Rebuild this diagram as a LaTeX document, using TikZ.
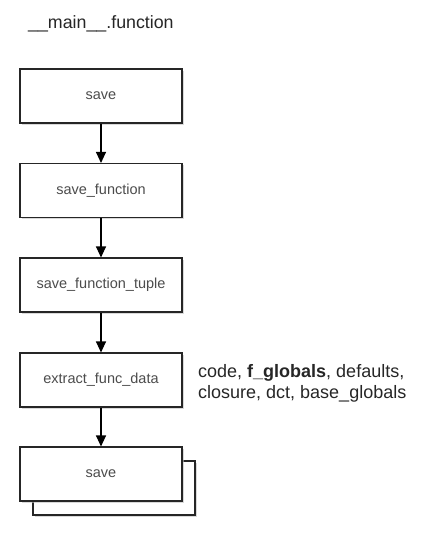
\documentclass[tikz,border=0pt]{standalone}
\usepackage{fontspec}
\setmainfont{Liberation Sans}
\usetikzlibrary{arrows.meta,shadows}
\begin{document}
\begin{tikzpicture}[x=1pt,y=-1pt,
  fbox/.style={draw=black!85,line width=1.1pt,fill=white,minimum width=162pt,minimum height=54pt,inner sep=0pt,font=\fontsize{14.5}{16}\selectfont,text=black!70,
    drop shadow={shadow xshift=1.5pt,shadow yshift=-1.5pt,fill=black!25,opacity=0.6}},
  conn/.style={draw=black,line width=1.1pt,-{Triangle[length=11pt,width=10pt]}}]
\useasboundingbox (0,0) rectangle (425,539);
\node[font=\fontsize{17.8}{20}\selectfont,text=black!85,anchor=west,inner sep=0pt] (title) at (28,24) {\_\_main\_\_.function};
\node[fbox] (b1) at (101,96) {save};
\node[fbox] (b2) at (101,190.5) {save\_function};
\node[fbox] (b3) at (101,285) {save\_function\_tuple};
\node[fbox] (b4) at (101,380) {extract\_func\_data};
\node[fbox] (b5s) at (114,488) {};
\node[fbox] (b5) at (101,474) {save};
\node[anchor=west,align=left,inner sep=0pt,font=\fontsize{18}{21}\selectfont,text=black!85] (args) at (198,383) {code, \textbf{f\_globals}, defaults,\\closure, dct, base\_globals};
\draw[conn] (b1) -- (b2);
\draw[conn] (b2) -- (b3);
\draw[conn] (b3) -- (b4);
\draw[conn] (b4) -- (b5);
\end{tikzpicture}
\end{document}
